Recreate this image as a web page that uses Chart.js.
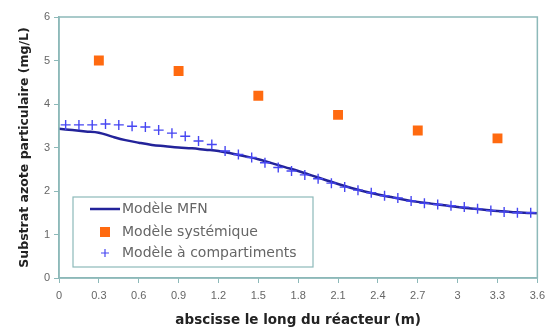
<!DOCTYPE html>
<html>
<head>
<meta charset="utf-8">
<script src="https://cdn.jsdelivr.net/npm/chart.js@4.4.1/dist/chart.umd.min.js"></script>
<style>
  html, body { margin: 0; padding: 0; background: #fff; }
  #wrap { width: 551px; height: 329px; }
</style>
</head>
<body>
<div id="wrap"><canvas id="chart" width="551" height="329"></canvas></div>
<script>
// x ticks and y ticks of the axes
const xTicks = [0, 0.3, 0.6, 0.9, 1.2, 1.5, 1.8, 2.1, 2.4, 2.7, 3, 3.3, 3.6];
const yTicks = [0, 1, 2, 3, 4, 5, 6];

// Modèle MFN (continuous curve)
const mfnX = [0, 0.1, 0.2, 0.3, 0.4, 0.5, 0.6, 0.7, 0.8, 0.9, 1.0, 1.1, 1.2, 1.3, 1.4, 1.5, 1.6, 1.7, 1.8,
              1.9, 2.0, 2.1, 2.2, 2.3, 2.4, 2.5, 2.6, 2.7, 2.8, 2.9, 3.0, 3.1, 3.2, 3.3, 3.4, 3.5, 3.6];
const mfnY = [3.43, 3.40, 3.37, 3.34, 3.25, 3.17, 3.11, 3.06, 3.03, 3.00, 2.98, 2.95, 2.92, 2.86, 2.80, 2.73, 2.64, 2.55, 2.46,
              2.36, 2.26, 2.16, 2.07, 1.99, 1.92, 1.86, 1.80, 1.75, 1.71, 1.67, 1.63, 1.60, 1.57, 1.54, 1.52, 1.50, 1.49];

// Modèle systémique
const sysX = [0.3, 0.9, 1.5, 2.1, 2.7, 3.3];
const sysY = [5.0, 4.76, 4.19, 3.75, 3.39, 3.21];

// Modèle à compartiments
const compX = [0.05, 0.15, 0.25, 0.35, 0.45, 0.55, 0.65, 0.75, 0.85, 0.95, 1.05, 1.15, 1.25, 1.35, 1.45, 1.55, 1.65, 1.75,
               1.85, 1.95, 2.05, 2.15, 2.25, 2.35, 2.45, 2.55, 2.65, 2.75, 2.85, 2.95, 3.05, 3.15, 3.25, 3.35, 3.45, 3.55];
const compY = [3.52, 3.52, 3.52, 3.54, 3.52, 3.49, 3.47, 3.40, 3.33, 3.26, 3.15, 3.07, 2.92, 2.84, 2.77, 2.65, 2.54, 2.46,
               2.37, 2.28, 2.18, 2.09, 2.02, 1.96, 1.89, 1.84, 1.77, 1.72, 1.69, 1.66, 1.63, 1.59, 1.55, 1.52, 1.50, 1.50];

const axisColor = '#8db9b9';
const tickColor = '#666';
const titleFamily = '"DejaVu Sans", Verdana, sans-serif';
const toPoints = (xs, ys) => xs.map((x, i) => ({ x: x, y: ys[i] }));

// border around the plot area + legend box inside it
const framePlugin = {
    id: 'frame',
    afterDraw(chart) {
        const ctx = chart.ctx;
        const a = chart.chartArea;
        ctx.save();
        ctx.strokeStyle = axisColor;
        ctx.lineWidth = 1.5;
        ctx.strokeRect(a.left, a.top, a.right - a.left, a.bottom - a.top);

        // legend
        const bx = 73, by = 197, bw = 240, bh = 70;
        ctx.fillStyle = '#fff';
        ctx.fillRect(bx, by, bw, bh);
        ctx.strokeStyle = axisColor;
        ctx.lineWidth = 1.2;
        ctx.strokeRect(bx, by, bw, bh);

        const ds = chart.data.datasets;
        const rows = [209, 232, 253];
        ctx.font = '14px ' + titleFamily;
        ctx.textBaseline = 'middle';
        ds.forEach((d, i) => {
            const y = rows[i];
            const cx = 105;
            if (i === 0) {
                ctx.strokeStyle = d.borderColor;
                ctx.lineWidth = d.borderWidth;
                ctx.beginPath();
                ctx.moveTo(90, y);
                ctx.lineTo(120, y);
                ctx.stroke();
            } else if (i === 1) {
                ctx.fillStyle = d.backgroundColor;
                ctx.fillRect(cx - 5, y - 5, 10, 10);
            } else {
                ctx.strokeStyle = d.borderColor;
                ctx.lineWidth = 1.2;
                ctx.beginPath();
                ctx.moveTo(cx - 4, y); ctx.lineTo(cx + 4, y);
                ctx.moveTo(cx, y - 4); ctx.lineTo(cx, y + 4);
                ctx.stroke();
            }
            ctx.fillStyle = tickColor;
            ctx.fillText(d.label, 122, y);
        });
        ctx.restore();
    }
};

document.addEventListener('DOMContentLoaded', function () {
    const ctx = document.getElementById('chart').getContext('2d');
    new Chart(ctx, {
        type: 'scatter',
        data: {
            datasets: [{
                label: 'Modèle MFN',
                data: toPoints(mfnX, mfnY),
                showLine: true,
                borderColor: '#23239a',
                borderWidth: 2.5,
                pointRadius: 0,
                tension: 0.4,
                order: 2
            }, {
                label: 'Modèle systémique',
                data: toPoints(sysX, sysY),
                pointStyle: 'rect',
                pointRadius: 7,
                backgroundColor: '#ff6a10',
                borderColor: '#ff6a10',
                borderWidth: 0,
                order: 1
            }, {
                label: 'Modèle à compartiments',
                data: toPoints(compX, compY),
                pointStyle: 'cross',
                pointRadius: 5,
                borderColor: '#4646f2',
                borderWidth: 1.4,
                order: 0
            }]
        },
        options: {
            responsive: false,
            animation: false,
            layout: { padding: { left: 0, top: 17, right: 11, bottom: 0 } },
            plugins: {
                legend: { display: false },
                tooltip: { enabled: false }
            },
            scales: {
                x: {
                    type: 'linear',
                    min: 0,
                    max: 3.6,
                    afterBuildTicks: (scale) => { scale.ticks = xTicks.map(v => ({ value: v })); },
                    afterFit: (scale) => { scale.height = 51; },
                    border: { color: axisColor, width: 1.5 },
                    grid: { drawOnChartArea: false, color: axisColor, tickLength: 5 },
                    ticks: {
                        color: tickColor,
                        padding: 6,
                        maxRotation: 0,
                        autoSkip: false,
                        font: { size: 11, family: '"Liberation Sans", Arial, sans-serif' },
                        callback: (v) => String(v)
                    },
                    title: {
                        display: true,
                        text: 'abscisse le long du réacteur (m)',
                        color: '#222',
                        padding: { top: 0, bottom: 0 },
                        font: { size: 13.5, weight: 'bold', family: titleFamily }
                    }
                },
                y: {
                    min: 0,
                    max: 6,
                    afterBuildTicks: (scale) => { scale.ticks = yTicks.map(v => ({ value: v })); },
                    afterFit: (scale) => { scale.width = 59; },
                    border: { color: axisColor, width: 1.5 },
                    grid: { drawOnChartArea: false, color: axisColor, tickLength: 5 },
                    ticks: {
                        color: tickColor,
                        padding: 4,
                        font: { size: 11, family: '"Liberation Sans", Arial, sans-serif' }
                    },
                    title: {
                        display: true,
                        text: 'Substrat azote particulaire (mg/L)',
                        color: '#222',
                        padding: { top: 17, bottom: 0 },
                        font: { size: 12.5, weight: 'bold', family: titleFamily }
                    }
                }
            }
        },
        plugins: [framePlugin]
    });
});
</script>
</body>
</html>
